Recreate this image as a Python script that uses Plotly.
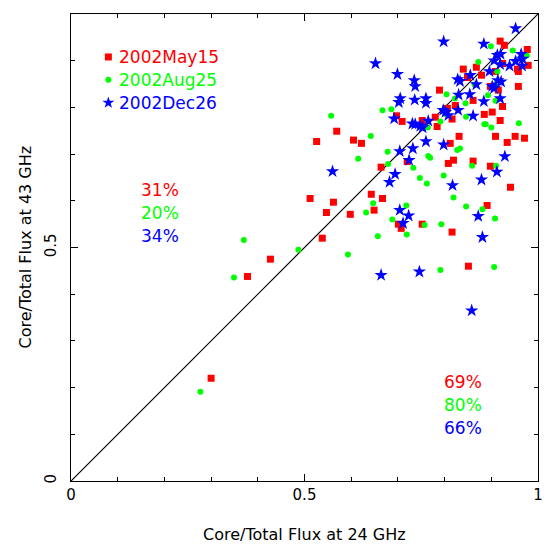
import plotly.graph_objects as go

# 2002May15 (red squares)
may_x = [0.300, 0.378, 0.427, 0.512, 0.526, 0.538, 0.547, 0.562, 0.569, 0.598,
         0.605, 0.622, 0.643, 0.649, 0.664, 0.667, 0.697, 0.701, 0.707, 0.709,
         0.720, 0.752, 0.752, 0.780, 0.784, 0.789, 0.806, 0.808, 0.812, 0.816,
         0.816, 0.819, 0.823, 0.831, 0.840, 0.849, 0.851, 0.861, 0.861, 0.868,
         0.879, 0.885, 0.891, 0.898, 0.898, 0.902, 0.909, 0.909, 0.915, 0.919,
         0.919, 0.924, 0.924, 0.928, 0.934, 0.941, 0.951, 0.956, 0.958, 0.958,
         0.971, 0.977, 0.979]
may_y = [0.220, 0.438, 0.475, 0.605, 0.727, 0.520, 0.575, 0.597, 0.749, 0.571,
         0.730, 0.723, 0.614, 0.580, 0.672, 0.605, 0.782, 0.550, 0.541, 0.770,
         0.684, 0.772, 0.550, 0.779, 0.759, 0.837, 0.798, 0.680, 0.723, 0.775,
         0.533, 0.687, 0.804, 0.738, 0.882, 0.864, 0.460, 0.815, 0.685, 0.886,
         0.869, 0.785, 0.590, 0.845, 0.674, 0.790, 0.738, 0.877, 0.837, 0.942,
         0.772, 0.802, 0.894, 0.933, 0.725, 0.629, 0.738, 0.882, 0.877, 0.845,
         0.734, 0.924, 0.890]

# 2002Aug25 (green circles)
aug_x = [0.277, 0.349, 0.370, 0.487, 0.557, 0.593, 0.615, 0.632, 0.642, 0.647,
         0.657, 0.667, 0.678, 0.679, 0.686, 0.688, 0.718, 0.719, 0.733, 0.747,
         0.757, 0.762, 0.764, 0.765, 0.769, 0.791, 0.791, 0.793, 0.798, 0.801,
         0.804, 0.819, 0.822, 0.827, 0.833, 0.845, 0.846, 0.846, 0.859, 0.864,
         0.872, 0.881, 0.885, 0.888, 0.893, 0.899, 0.900, 0.906, 0.908, 0.909,
         0.910, 0.913, 0.912, 0.946, 0.959, 0.976]
aug_y = [0.191, 0.436, 0.516, 0.495, 0.782, 0.485, 0.690, 0.575, 0.739, 0.595,
         0.524, 0.794, 0.705, 0.679, 0.796, 0.560, 0.590, 0.528, 0.671, 0.649,
         0.548, 0.637, 0.757, 0.696, 0.692, 0.770, 0.452, 0.550, 0.654, 0.786,
         0.828, 0.607, 0.819, 0.709, 0.712, 0.809, 0.588, 0.780, 0.675, 0.849,
         0.897, 0.582, 0.764, 0.764, 0.826, 0.931, 0.757, 0.458, 0.562, 0.814,
         0.675, 0.877, 0.852, 0.922, 0.766, 0.911]

# 2002Dec26 (blue stars)
dec_x = [0.560, 0.652, 0.664, 0.682, 0.692, 0.694, 0.699, 0.702, 0.704, 0.704,
         0.705, 0.711, 0.723, 0.724, 0.731, 0.732, 0.735, 0.736, 0.737, 0.737,
         0.746, 0.748, 0.753, 0.760, 0.760, 0.760, 0.765, 0.797, 0.798, 0.798,
         0.802, 0.808, 0.817, 0.828, 0.829, 0.830, 0.833, 0.854, 0.855, 0.858,
         0.861, 0.868, 0.872, 0.879, 0.881, 0.884, 0.884, 0.896, 0.902, 0.906,
         0.906, 0.912, 0.913, 0.914, 0.919, 0.919, 0.920, 0.921, 0.929, 0.939,
         0.952, 0.952, 0.964, 0.966, 0.967]
dec_y = [0.663, 0.894, 0.441, 0.640, 0.776, 0.657, 0.871, 0.811, 0.706, 0.580,
         0.819, 0.552, 0.568, 0.687, 0.765, 0.712, 0.858, 0.816, 0.764, 0.845,
         0.448, 0.760, 0.757, 0.727, 0.819, 0.809, 0.771, 0.794, 0.941, 0.720,
         0.790, 0.783, 0.633, 0.860, 0.794, 0.827, 0.856, 0.828, 0.869, 0.365,
         0.782, 0.849, 0.567, 0.645, 0.522, 0.936, 0.813, 0.877, 0.845, 0.841,
         0.900, 0.662, 0.912, 0.858, 0.892, 0.819, 0.914, 0.855, 0.695, 0.889,
         0.969, 0.899, 0.914, 0.889, 0.904]

series_names = ["2002May15", "2002Aug25", "2002Dec26"]
series_colors = ["#ff0000", "#00ff00", "#0000ff"]
pct_above = ["31%", "20%", "34%"]
pct_below = ["69%", "80%", "66%"]
tick_vals = [0, 0.5, 1]
tick_text = ["0", "0.5", "1"]

FONT = "DejaVu Sans"

fig = go.Figure()

# diagonal y = x
fig.add_trace(go.Scatter(x=[0, 1], y=[0, 1], mode="lines",
                         line=dict(color="black", width=1.2), hoverinfo="skip",
                         showlegend=False))

fig.add_trace(go.Scatter(x=may_x, y=may_y, mode="markers", name=series_names[0],
                         marker=dict(symbol="square", size=7, color=series_colors[0],
                                     line=dict(width=0)), showlegend=False))
fig.add_trace(go.Scatter(x=aug_x, y=aug_y, mode="markers", name=series_names[1],
                         marker=dict(symbol="circle", size=6, color=series_colors[1],
                                     line=dict(width=0)), showlegend=False))
fig.add_trace(go.Scatter(x=dec_x, y=dec_y, mode="markers", name=series_names[2],
                         marker=dict(symbol="star", size=10, color=series_colors[2],
                                     line=dict(width=0)), showlegend=False))

# invisible trace to carry mirrored top/right axes
fig.add_trace(go.Scatter(x=[0, 1], y=[0, 1], xaxis="x2", yaxis="y2", mode="markers",
                         marker=dict(opacity=0), hoverinfo="skip", showlegend=False))

# legend (symbols + coloured text)
legend_syms = ["square", "circle", "star"]
legend_sizes = [7, 6, 9]
legend_rows = [0.908, 0.859, 0.810]
for name, col, sym, sz, yy in zip(series_names, series_colors, legend_syms, legend_sizes, legend_rows):
    fig.add_trace(go.Scatter(x=[0.080], y=[yy], mode="markers",
                             marker=dict(symbol=sym, size=sz, color=col, line=dict(width=0)),
                             hoverinfo="skip", showlegend=False))
    fig.add_annotation(x=0.098, y=yy, xref="x", yref="y", text=name, showarrow=False,
                       xanchor="left", yanchor="middle",
                       font=dict(family=FONT, size=17, color=col))

for txt, col, yy in zip(pct_above, series_colors, [0.623, 0.574, 0.525]):
    fig.add_annotation(x=0.190, y=yy, xref="x", yref="y", text=txt, showarrow=False,
                       xanchor="center", yanchor="middle",
                       font=dict(family=FONT, size=17, color=col))
for txt, col, yy in zip(pct_below, series_colors, [0.212, 0.163, 0.114]):
    fig.add_annotation(x=0.839, y=yy, xref="x", yref="y", text=txt, showarrow=False,
                       xanchor="center", yanchor="middle",
                       font=dict(family=FONT, size=17, color=col))

# axis titles
fig.add_annotation(x=0.5, y=-0.1156, xref="paper", yref="paper",
                   text="Core/Total Flux at 24 GHz", showarrow=False,
                   xanchor="center", yanchor="middle",
                   font=dict(family=FONT, size=16, color="black"))
fig.add_annotation(x=-0.0985, y=0.5, xref="paper", yref="paper",
                   text="Core/Total Flux at 43 GHz", showarrow=False, textangle=-90,
                   xanchor="center", yanchor="middle",
                   font=dict(family=FONT, size=16, color="black"))

axis_common = dict(
    range=[0, 1], showgrid=False, zeroline=False, automargin=False,
    showline=True, linecolor="black", linewidth=1,
    ticks="inside", ticklen=7, tickwidth=1, tickcolor="black",
    tickvals=tick_vals, ticktext=tick_text,
    tickfont=dict(family=FONT, size=15, color="black"),
    minor=dict(dtick=0.1, tick0=0, ticks="inside", ticklen=4, tickwidth=1, tickcolor="black"),
)

# the page body has an 8px default margin, so the figure is sized/offset to compensate
fig.update_layout(
    width=543, height=538,
    margin=dict(l=63, r=13, t=6, b=65),
    plot_bgcolor="white", paper_bgcolor="white",
    showlegend=False,
    xaxis=dict(**axis_common),
    yaxis=dict(**axis_common, tickangle=-90, ticklabelstandoff=8),
    xaxis2=dict(**axis_common, overlaying="x", side="top", showticklabels=False),
    yaxis2=dict(**axis_common, overlaying="y", side="right", showticklabels=False),
)

fig.write_html("out.html")
